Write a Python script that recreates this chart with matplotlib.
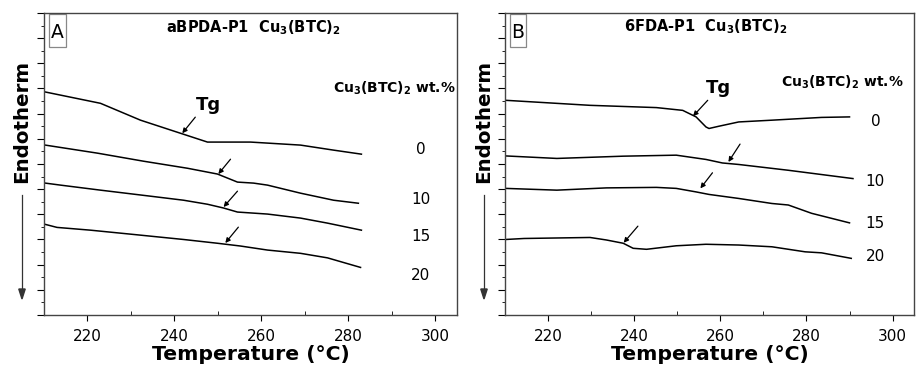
import numpy as np
import matplotlib.pyplot as plt
from matplotlib.ticker import MultipleLocator
from matplotlib.patches import Rectangle

# ---- panel A: aBPDA-P1 ----
a_t0 = [210.3, 223, 232.2, 241.4, 247.6, 257.5, 269, 276.6, 283]
a_y0 = [8.86, 8.41, 7.74, 7.22, 6.87, 6.87, 6.75, 6.55, 6.39]
a_t10 = [210.3, 222.3, 232.9, 243, 249.9, 254.5, 258.2, 261.4, 269, 276.6, 282.3]
a_y10 = [6.75, 6.43, 6.11, 5.83, 5.6, 5.28, 5.24, 5.16, 4.84, 4.56, 4.44]
a_t15 = [210.3, 213.8, 223, 234.5, 242.1, 247.6, 251.3, 254.5, 261.4, 269, 275.2, 283]
a_y15 = [5.24, 5.16, 4.96, 4.72, 4.56, 4.40, 4.25, 4.09, 4.01, 3.85, 3.65, 3.37]
a_t20 = [210.3, 213, 220.7, 230.6, 242.1, 249.9, 255.2, 261.4, 269, 275.2, 282.8]
a_y20 = [3.6, 3.48, 3.37, 3.2, 3.0, 2.85, 2.74, 2.58, 2.45, 2.27, 1.89]

# arrows: (tail T, tail y, head T, head y)
a_arrows = [(244.8, 7.86, 241.8, 7.22), (252.9, 6.19, 250.1, 5.6),
            (254.5, 4.92, 251.3, 4.29), (254.7, 3.49, 251.7, 2.86)]
a_labels_y = [6.59, 4.6, 3.1, 1.55]

# ---- panel B: 6FDA-P1 ----
b_t0 = [210.2, 229.8, 245.2, 251.3, 254.4, 256.7, 257.4, 259.7, 264.3, 272, 283.5, 290]
b_y0 = [8.53, 8.33, 8.24, 8.13, 7.87, 7.47, 7.41, 7.5, 7.67, 7.74, 7.85, 7.87]
b_t10 = [210.2, 222.1, 237.5, 249.8, 256.7, 260.5, 264.3, 275.8, 290.8]
b_y10 = [6.32, 6.22, 6.31, 6.35, 6.18, 6.04, 5.98, 5.75, 5.42]
b_t15 = [210.2, 222.1, 233.6, 245.2, 249.8, 254.4, 257.4, 264.3, 272, 275.8, 281.2, 290]
b_y15 = [5.03, 4.96, 5.05, 5.07, 5.03, 4.89, 4.79, 4.63, 4.43, 4.37, 4.04, 3.66]
b_t20 = [210.2, 214.5, 229.8, 233.6, 237.5, 239.8, 242.9, 249.8, 256.7, 264.3, 272, 279.7, 283.5, 290.4]
b_y20 = [3.0, 3.04, 3.08, 2.98, 2.85, 2.65, 2.61, 2.75, 2.81, 2.78, 2.71, 2.51, 2.47, 2.25]

b_arrows = [(257.1, 8.53, 253.7, 7.9), (264.6, 6.79, 261.9, 6.08),
            (258.2, 5.65, 255.4, 5.03), (240.9, 3.53, 237.6, 2.87)]
b_labels_y = [7.67, 5.29, 3.64, 2.34]

wt_labels = ["0", "10", "15", "20"]
cu = r"Cu$_\mathbf{3}$(BTC)$_\mathbf{2}$"

fig = plt.figure(figsize=(9.16, 3.67), dpi=100)
axA = fig.add_axes([0.048, 0.1417, 0.451, 0.823])
axB = fig.add_axes([0.551, 0.1417, 0.447, 0.823])


def setup(ax, letter):
    ax.set_xlim(210, 305)
    ax.set_ylim(0, 12)
    ax.xaxis.set_major_locator(MultipleLocator(20))
    ax.xaxis.set_minor_locator(MultipleLocator(10))
    ax.yaxis.set_major_locator(MultipleLocator(1))
    ax.yaxis.set_minor_locator(MultipleLocator(0.5))
    ax.set_yticklabels([])
    ax.tick_params(axis='x', which='major', direction='out', length=4, labelsize=11, pad=6)
    ax.tick_params(axis='x', which='minor', direction='in', length=3)
    ax.tick_params(axis='y', which='major', direction='out', length=5)
    ax.tick_params(axis='y', which='minor', direction='out', length=2.5)
    for s in ax.spines.values():
        s.set_color('#444444')
        s.set_linewidth(1.0)
    ax.set_xlabel("Temperature (°C)", fontsize=14.7, fontweight='bold', labelpad=1)
    ax.add_patch(Rectangle((0.012, 0.887), 0.041, 0.11, transform=ax.transAxes,
                           fill=False, ec='#888888', lw=0.9))
    ax.text(0.0325, 0.935, letter, transform=ax.transAxes, ha='center', va='center', fontsize=13.5)


def arrows(ax, arr):
    for t0, y0, t1, y1 in arr:
        ax.annotate("", xy=(t1, y1), xytext=(t0, y0),
                    arrowprops=dict(arrowstyle='-|>', color='black', lw=0.9,
                                    mutation_scale=7, shrinkA=0, shrinkB=0))


setup(axA, "A")
for t, y in [(a_t0, a_y0), (a_t10, a_y10), (a_t15, a_y15), (a_t20, a_y20)]:
    axA.plot(t, y, color='black', lw=1.1)
arrows(axA, a_arrows)
axA.text(247.8, 8.33, "Tg", fontsize=13, fontweight='bold', ha='center', va='center')
axA.text(258.2, 11.43, "aBPDA-P1  " + cu, fontsize=10.5, fontweight='bold', ha='center', va='center')
axA.text(290.6, 9.0, cu + " wt.%", fontsize=10, fontweight='bold', ha='center', va='center')
for lab, y in zip(wt_labels, a_labels_y):
    axA.text(296.6, y, lab, fontsize=11, ha='center', va='center')

setup(axB, "B")
for t, y in [(b_t0, b_y0), (b_t10, b_y10), (b_t15, b_y15), (b_t20, b_y20)]:
    axB.plot(t, y, color='black', lw=1.1)
arrows(axB, b_arrows)
axB.text(259.7, 9.0, "Tg", fontsize=13, fontweight='bold', ha='center', va='center')
axB.text(256.7, 11.44, "6FDA-P1  " + cu, fontsize=10.5, fontweight='bold', ha='center', va='center')
axB.text(288.3, 9.26, cu + " wt.%", fontsize=10, fontweight='bold', ha='center', va='center')
for lab, y in zip(wt_labels, b_labels_y):
    axB.text(296.0, y, lab, fontsize=11, ha='center', va='center')

# Endotherm labels with downward arrows
for xf in [22 / 916, 484 / 916]:
    fig.text(xf, 0.669, "Endotherm", rotation=90, fontsize=14.3, fontweight='bold',
             ha='center', va='center')
    fig.add_artist(plt.Line2D([xf, xf], [1 - 195 / 367, 1 - 292 / 367], color='#333333', lw=0.9))
    fig.patches.append(plt.Polygon([[xf - 0.0035, 1 - 289 / 367], [xf + 0.0035, 1 - 289 / 367],
                                    [xf, 1 - 299 / 367]], closed=True, color='#333333',
                                   transform=fig.transFigure, figure=fig))

fig.savefig("out.png", dpi=100)
